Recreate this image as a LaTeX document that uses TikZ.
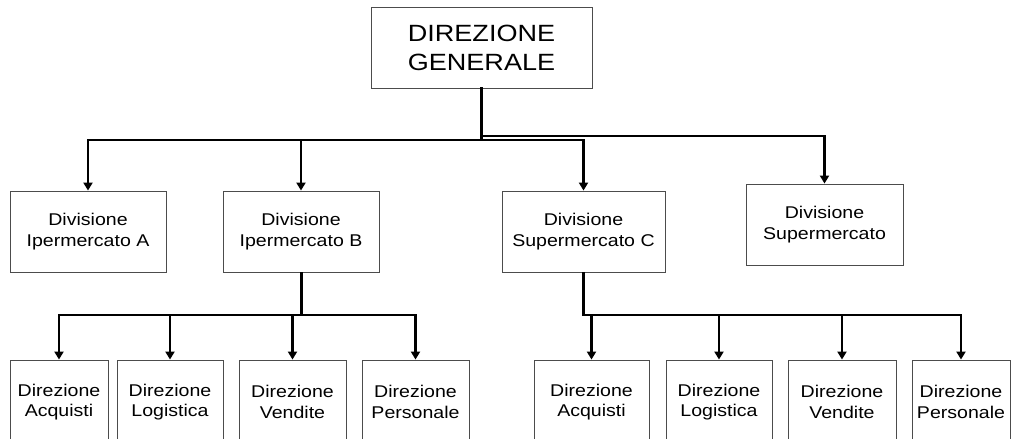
\documentclass[tikz,border=0pt]{standalone}
\usepackage{fontspec}
\setmainfont[FakeStretch=1.15]{Liberation Sans}
\usetikzlibrary{arrows.meta}
\begin{document}
\begin{tikzpicture}[x=1pt,y=-1pt,
  box/.style={draw=black!70,line width=0.9pt,fill=white,rectangle,inner sep=0pt,align=center},
  topbox/.style={box,minimum width=221pt,minimum height=81pt,font=\fontsize{23.5}{29}\selectfont},
  divbox/.style={box,minimum height=81pt,font=\fontsize{17}{21}\selectfont},
  dirbox/.style={box,minimum height=84pt,font=\fontsize{17}{20.5}\selectfont},
  link/.style={line width=2.1pt,line cap=rect},
  arr/.style={link,-{Triangle[width=9pt,length=8pt]}},
  stem/.style={line width=3pt}]
\useasboundingbox (0,0) rectangle (1015,439);
\clip (0,0) rectangle (1015,439);
\fill[white] (0,0) rectangle (1015,439);

% bus levels
\coordinate (busA) at (0,140);
\coordinate (busB) at (0,136);
\coordinate (busC) at (0,315);

% head office
\node[topbox] (dg) at (481.5,47.5) {DIREZIONE\\GENERALE};

% divisions
\node[divbox,minimum width=156pt] (da) at (88,231.5) {Divisione\\Ipermercato A};
\node[divbox,minimum width=156pt] (db) at (301,231.5) {Divisione\\Ipermercato B};
\node[divbox,minimum width=163pt] (dc) at (583.5,231.5) {Divisione\\Supermercato C};
\node[divbox,minimum width=157pt] (dd) at (824.5,224.5) {Divisione\\Supermercato};

% departments of division B
\node[dirbox,minimum width=98pt]  (b1) at (59,402)    {Direzione\\Acquisti};
\node[dirbox,minimum width=106pt] (b2) at (170,402)   {Direzione\\Logistica};
\node[dirbox,minimum width=107pt] (b3) at (292.5,402) {Direzione\\Vendite};
\node[dirbox,minimum width=107pt] (b4) at (415.5,402) {Direzione\\Personale};

% departments of division C
\node[dirbox,minimum width=115pt] (c1) at (591.5,402) {Direzione\\Acquisti};
\node[dirbox,minimum width=106pt] (c2) at (719,402)   {Direzione\\Logistica};
\node[dirbox,minimum width=108pt] (c3) at (842,402)   {Direzione\\Vendite};
\node[dirbox,minimum width=98pt]  (c4) at (961,402)   {Direzione\\Personale};

% head office to divisions
\draw[link] (dg.south) -- (dg.south |- busA);
\draw[arr] (dg.south |- busA) -| (da.north);
\draw[arr] (dg.south |- busA) -| (dc.north);
\draw[arr] (db.north |- busA) -- (db.north);
\draw[arr] (dg.south |- busB) -| (dd.north);

% division B to its departments
\draw[stem] (db.south) -- (db.south |- busC);
\draw[arr] (db.south |- busC) -| (b1.north);
\draw[arr] (db.south |- busC) -| (b2.north);
\draw[arr] (db.south |- busC) -| (b3.north);
\draw[arr] (db.south |- busC) -| (b4.north);

% division C to its departments
\draw[stem] (dc.south) -- (dc.south |- busC);
\draw[arr] (dc.south |- busC) -| (c1.north);
\draw[arr] (dc.south |- busC) -| (c2.north);
\draw[arr] (dc.south |- busC) -| (c3.north);
\draw[arr] (dc.south |- busC) -| (c4.north);
\end{tikzpicture}
\end{document}
